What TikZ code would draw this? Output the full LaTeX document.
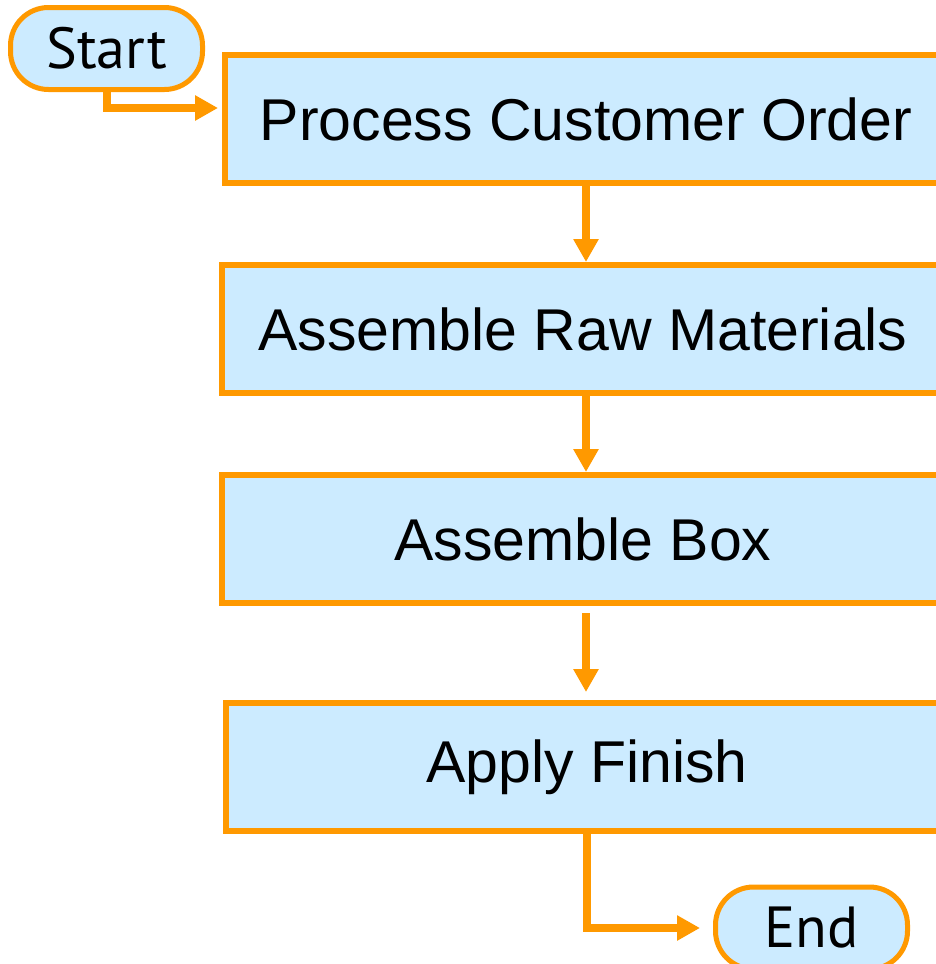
\documentclass[tikz,border=0pt]{standalone}
\usepackage{fontspec}
\setmainfont{Liberation Sans}
\newfontfamily\termfont{PT Sans}
\usepackage{tikz}
\usepackage{xcolor}
\usetikzlibrary{
    arrows.meta,
    calc,
    positioning
}
\definecolor{boxfill}{RGB}{204,235,255}
\definecolor{flowline}{RGB}{255,153,0}

\begin{document}
\begin{tikzpicture}[
        x=1pt, y=-1pt,
        process/.style={draw=flowline, fill=boxfill, line width=6pt, inner sep=0pt,
            minimum width=722pt, minimum height=128pt,
            font=\fontsize{59}{61}\selectfont},
        terminal/.style={draw=flowline, fill=boxfill, line width=5pt, inner sep=0pt,
            rounded corners=38pt, minimum width=192pt, minimum height=82pt,
            font=\termfont\fontsize{58}{60}\selectfont},
        flow/.style={draw=flowline, line width=8pt,
            -{Triangle[length=23pt, width=24pt]}}
    ]
                                \clip (0, 0) rectangle (936, 964);
                                % terminals
                                \node[terminal] (start) at (106.5, 48.5) {Start};
                                \node[terminal] (end) at (811.5, 928) {End};
                                % process steps
                                \node[process] (order) at (586, 119) {Process Customer Order};
                                \node[process] (raw) at (583, 329) {Assemble Raw Materials};
                                \node[process] (box) at (583, 539) {Assemble Box};
                                \node[process] (finish) at (587, 767) {Apply Finish};
                                % connectors
                                \draw[flow, shorten >=4pt] (start.south) |- ([yshift=11pt]order.west);
                                \draw[flow] (order.south) -- (order.south |- raw.north);
                                \draw[flow] (order.south |- raw.south) -- (order.south |- box.north);
                                \draw[flow, shorten <=7pt, shorten >=8pt] (order.south |- box.south) -- (order.south |- finish.north);
                                \draw[flow, shorten >=13pt] (finish.south) |- (end.west);
                            \end{tikzpicture}
\end{document}
